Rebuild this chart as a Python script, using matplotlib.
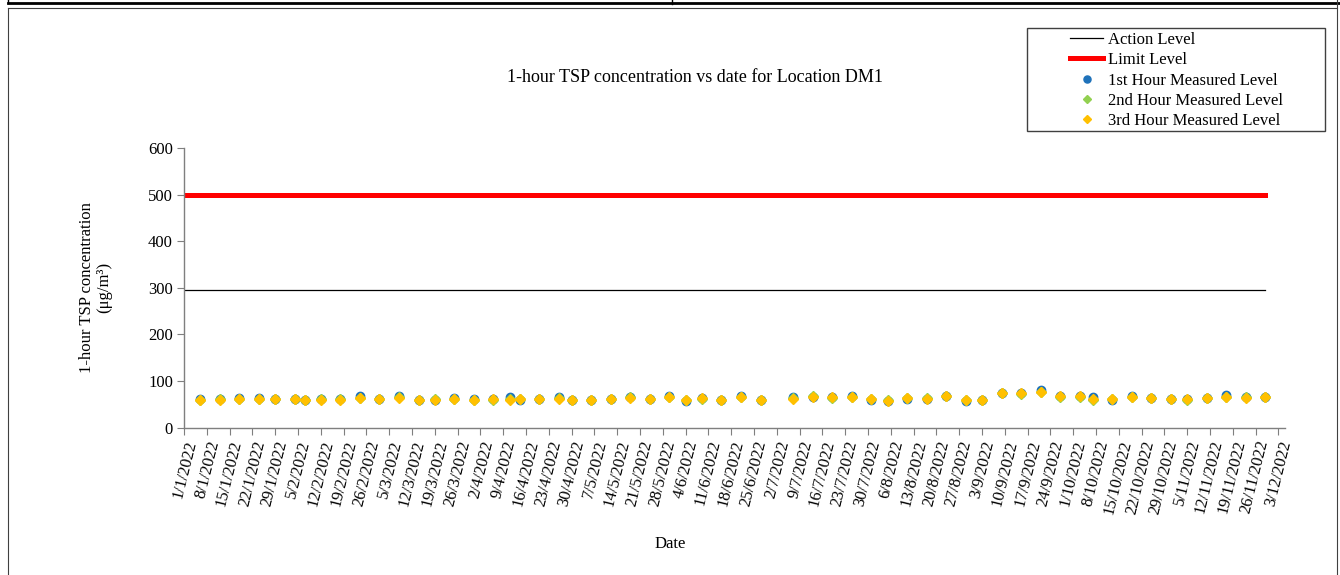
import matplotlib
matplotlib.use("Agg")
import matplotlib.pyplot as plt
from matplotlib.lines import Line2D
from matplotlib.patches import Rectangle
import pandas as pd

plt.rcParams['font.family'] = ['Liberation Serif', 'DejaVu Serif']

dates = ["2022-01-06", "2022-01-12", "2022-01-18", "2022-01-24", "2022-01-29", "2022-02-04",
         "2022-02-07", "2022-02-12", "2022-02-18", "2022-02-24", "2022-03-02", "2022-03-08",
         "2022-03-14", "2022-03-19", "2022-03-25", "2022-03-31", "2022-04-06", "2022-04-11",
         "2022-04-14", "2022-04-20", "2022-04-26", "2022-04-30", "2022-05-06", "2022-05-12",
         "2022-05-18", "2022-05-24", "2022-05-30", "2022-06-04", "2022-06-09", "2022-06-15",
         "2022-06-21", "2022-06-27", "2022-07-07", "2022-07-13", "2022-07-19", "2022-07-25",
         "2022-07-31", "2022-08-05", "2022-08-11", "2022-08-17", "2022-08-23", "2022-08-29",
         "2022-09-03", "2022-09-09", "2022-09-15", "2022-09-21", "2022-09-27", "2022-10-03",
         "2022-10-07", "2022-10-13", "2022-10-19", "2022-10-25", "2022-10-31", "2022-11-05",
         "2022-11-11", "2022-11-17", "2022-11-23", "2022-11-29"]

hour1 = [62, 61, 64, 63, 62, 62, 60, 62, 61, 67, 62, 67, 60, 58, 63, 62, 61, 65, 60, 61,
         65, 58, 60, 62, 66, 62, 67, 57, 64, 60, 68, 59, 66, 66, 66, 67, 59, 56, 62, 62,
         68, 57, 59, 75, 74, 80, 67, 67, 65, 60, 68, 64, 62, 61, 63, 69, 65, 65]
hour2 = [60, 61, 62, 62, 61, 62, 59, 61, 62, 63, 62, 65, 59, 61, 61, 59, 60, 61, 61, 61,
         63, 60, 60, 62, 65, 62, 66, 60, 62, 60, 65, 60, 63, 68, 64, 66, 61, 58, 63, 63,
         67, 60, 60, 74, 72, 76, 65, 66, 60, 62, 66, 63, 61, 60, 64, 65, 65, 65]
hour3 = [60, 60, 62, 62, 61, 61, 58, 60, 60, 63, 62, 64, 58, 59, 61, 60, 61, 60, 61, 61,
         62, 60, 60, 62, 64, 62, 66, 60, 63, 59, 66, 59, 62, 66, 65, 65, 61, 57, 64, 62,
         67, 59, 59, 75, 73, 76, 67, 67, 61, 62, 66, 64, 62, 61, 64, 66, 64, 65]

level_dates = ["2022-01-01", "2022-11-29"]
action_level = 296
limit_level = 500

tick_start, tick_end = "2022-01-01", "2022-12-03"
xlim = ("2022-01-01", "2022-12-05")

W, H = 1340, 575
fig = plt.figure(figsize=(W / 100, H / 100), dpi=100)
ax = fig.add_axes([184 / W, 1 - 427.5 / H, (1285 - 184) / W, (427.5 - 148) / H])

d = pd.to_datetime(dates)
ld = pd.to_datetime(level_dates)

ax.plot(ld, [action_level] * 2, color='black', lw=0.9, label='Action Level', zorder=2)
ax.plot(ld, [limit_level] * 2, color='#FF0000', lw=3.6, label='Limit Level', zorder=2)
ax.plot(d, hour1, ls='none', marker='o', ms=6, color='#1F72BA', label='1st Hour Measured Level', zorder=3)
ax.plot(d, hour2, ls='none', marker='D', ms=5, color='#92D050', label='2nd Hour Measured Level', zorder=4)
ax.plot(d, hour3, ls='none', marker='D', ms=5, color='#FFC000', label='3rd Hour Measured Level', zorder=5)

ax.set_ylim(0, 600)
ax.set_yticks(range(0, 601, 100))
ax.set_xlim(pd.to_datetime(xlim[0]), pd.to_datetime(xlim[1]))
ticks = pd.date_range(tick_start, tick_end, freq='7D')
ax.set_xticks(ticks)
ax.set_xticklabels([f"{t.day}/{t.month}/{t.year}" for t in ticks], rotation=76,
                   ha='right', va='top', rotation_mode='anchor', fontsize=12)
for lab in ax.get_yticklabels():
    lab.set_fontsize(12)

for s in ['top', 'right']:
    ax.spines[s].set_visible(False)
for s in ['left', 'bottom']:
    ax.spines[s].set_color('#7F7F7F')
    ax.spines[s].set_linewidth(1.0)
ax.tick_params(axis='both', direction='out', length=5, color='#7F7F7F', labelcolor='black', pad=3)

ax.set_ylabel("1-hour TSP concentration\n(μg/m³)", fontsize=12, labelpad=26, linespacing=1.1)
fig.text(670 / W, 1 - 544 / H, "Date", fontsize=12, ha='center', va='center')
fig.text(695 / W, 1 - 78 / H, "1-hour TSP concentration vs date for Location DM1",
         fontsize=13, ha='center', va='center')

# legend
handles, labels = ax.get_legend_handles_labels()
leg = fig.legend(handles, labels, loc='upper left', bbox_to_anchor=(1070 / W, 1 - 32 / H),
                 frameon=False, fontsize=12, handlelength=2.0, handletextpad=0.25,
                 borderpad=0, borderaxespad=0, labelspacing=0.26, markerscale=0.85)
fig.patches.append(Rectangle((1027 / W, 1 - 131 / H), (1325 - 1027) / W, (131 - 28) / H,
                             transform=fig.transFigure, fill=False, edgecolor='#404040', lw=1.0))

# page frame lines
def fline(xs, ys, lw=1.0, color='black'):
    fig.add_artist(Line2D([x / W for x in xs], [1 - y / H for y in ys], transform=fig.transFigure,
                          color=color, lw=lw))

fline([8, 1340], [2.5, 2.5], lw=2.0)
fline([8, 8], [0, 3], lw=1.0)
fline([672, 672], [0, 4], lw=1.0)
fline([8, 1337], [8, 8], lw=0.8, color='#404040')
fline([8, 8], [8, 575], lw=0.8, color='#404040')
fline([1337, 1337], [0, 575], lw=0.8, color='#404040')

fig.savefig("out.png", dpi=100)
